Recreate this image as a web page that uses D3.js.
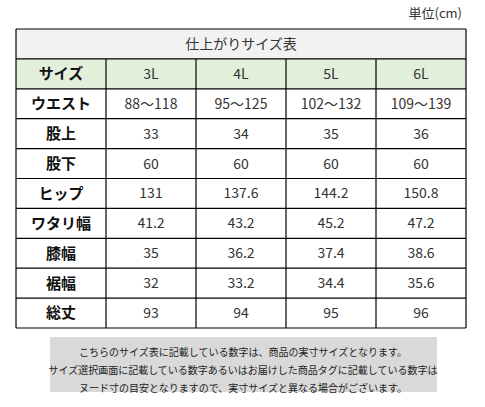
<!DOCTYPE html><html><head><meta charset="utf-8"><script src="https://cdn.jsdelivr.net/npm/d3@7"></script>
<style>body{margin:0;background:#fff}</style></head><body><svg id="c" width="485" height="407"></svg>
<script>
const title="仕上がりサイズ表";
const unit="単位(cm)";
const sizes=["3L","4L","5L","6L"];
const rowLabels=["ウエスト","股上","股下","ヒップ","ワタリ幅","膝幅","裾幅","総丈"];
const values=[["88～118","95～125","102～132","109～139"],["33","34","35","36"],["60","60","60","60"],["131","137.6","144.2","150.8"],["41.2","43.2","45.2","47.2"],["35","36.2","37.4","38.6"],["32","33.2","34.4","35.6"],["93","94","95","96"]];
const notes=["こちらのサイズ表に記載している数字は、商品の実寸サイズとなります。","サイズ選択画面に記載している数字あるいはお届けした商品タグに記載している数字は","ヌード寸の目安となりますので、実寸サイズと異なる場合がございます。"];
const svg=d3.select("#c"),F="'Noto Sans CJK JP',sans-serif";
const x=d3.scaleBand().domain(d3.range(5)).range([16,466]);
const y=d3.scaleBand().domain(d3.range(10)).range([29,328]);
svg.append("text").attr("x",462).attr("y",18).attr("text-anchor","end").attr("font-family",F).attr("font-size",13).attr("fill","#333").text(unit);
svg.append("rect").attr("x",16).attr("y",y(0)).attr("width",450).attr("height",y.bandwidth()).attr("fill","#f2f2f2");
svg.append("rect").attr("x",16).attr("y",y(1)).attr("width",450).attr("height",y.bandwidth()).attr("fill","#e2efda");
svg.append("text").attr("x",241).attr("y",y(0)+y.bandwidth()/2).attr("dy","0.35em").attr("text-anchor","middle").attr("font-family",F).attr("font-size",14).attr("fill","#333").text(title);
const rows=[["サイズ",...sizes],...rowLabels.map((l,i)=>[l,...values[i]])];
rows.forEach((r,i)=>r.forEach((t,j)=>{
 svg.append("text").attr("x",x(j)+x.bandwidth()/2).attr("y",y(i+1)+y.bandwidth()/2).attr("dy","0.36em").attr("text-anchor","middle").attr("font-family",F).attr("font-size",j==0?15:14).attr("font-weight",j==0?"bold":"normal").attr("fill",j==0?"#111":"#333").text(t);
}));
const g=svg.append("g").attr("stroke","#000").attr("stroke-width",1.2);
d3.range(11).forEach(i=>{const yy=i==10?328:y(i);g.append("line").attr("x1",16).attr("x2",466).attr("y1",yy).attr("y2",yy);});
d3.range(6).forEach(j=>{const xx=j==5?466:x(j);g.append("line").attr("x1",xx).attr("x2",xx).attr("y1",j==0||j==5?29:y(1)).attr("y2",328);});
svg.append("rect").attr("x",50).attr("y",337).attr("width",387).attr("height",55).attr("fill","#d9d9d9");
notes.forEach((n,i)=>svg.append("text").attr("x",243).attr("y",352+i*18).attr("dy","0.35em").attr("text-anchor","middle").attr("font-family",F).attr("font-size",10).attr("fill","#222").text(n));
</script></body></html>
